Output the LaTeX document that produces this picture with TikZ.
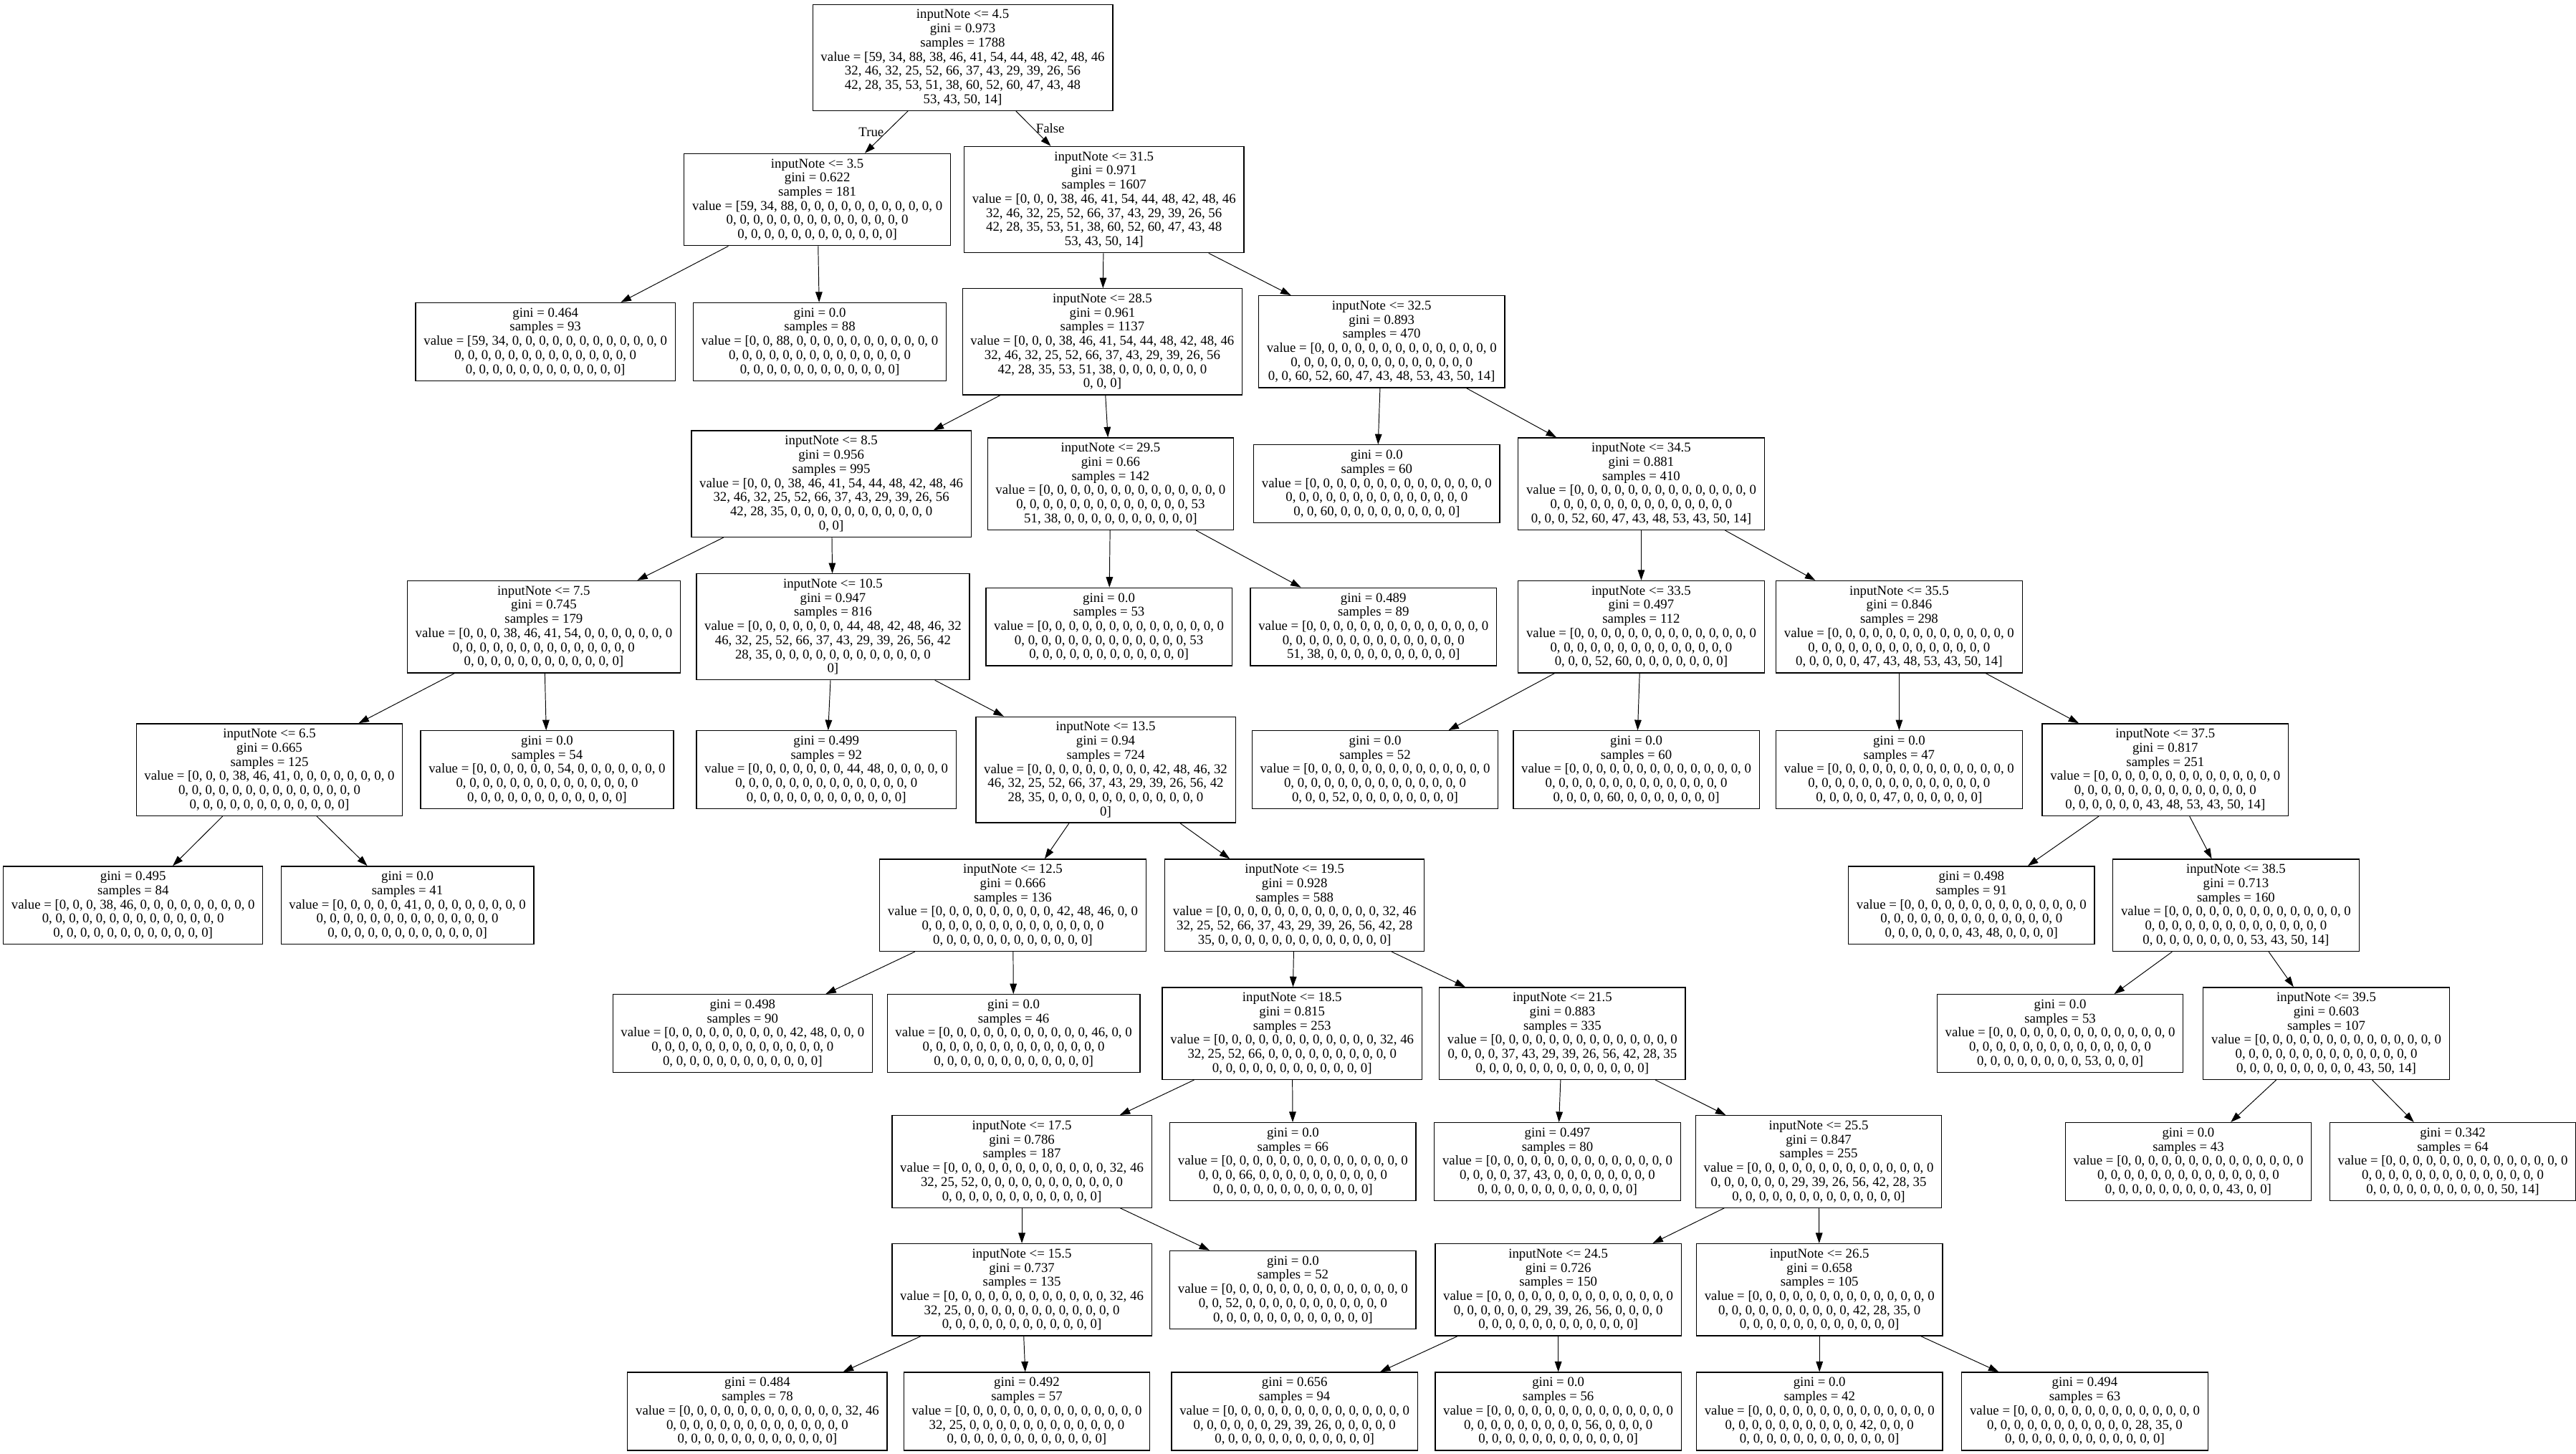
\documentclass[tikz,border=0pt]{standalone}
\usepackage{fontspec}
\setmainfont{Liberation Serif}
\usetikzlibrary{arrows.meta}
\newcommand{\treefont}{\fontsize{11.67}{12.24}\selectfont}
\newcommand{\zrow}{0, 0, 0, 0, 0, 0, 0, 0, 0, 0, 0, 0, 0, 0}
\newcommand{\zend}{0, 0, 0, 0, 0, 0, 0, 0, 0, 0, 0, 0]}
\newcommand{\leafinfo}[5]{gini = #1\\samples = #2\\value = [#3\\#4\\#5}
\tikzset{
 nodebox/.style={draw,line width=0.8pt,align=center,inner xsep=7pt,
             inner ysep=4.5pt,font=\treefont},
 link/.style={-{Triangle[length=9pt,width=6pt]},line width=0.6pt},
 elabel/.style={font=\treefont,inner sep=2pt}
}

\begin{document}
\begin{tikzpicture}[x=0.05cm,y=-0.05cm]
\path[use as bounding box,fill=white] (0,0) rectangle (1568,884.6);
% rank 0
\node[nodebox] (s45) at (586,35) {inputNote <= 4.5\\gini = 0.973\\samples = 1788\\value = [59, 34, 88, 38, 46, 41, 54, 44, 48, 42, 48, 46\\32, 46, 32, 25, 52, 66, 37, 43, 29, 39, 26, 56\\42, 28, 35, 53, 51, 38, 60, 52, 60, 47, 43, 48\\53, 43, 50, 14]};
% rank 1
\node[nodebox] (s35) at (497.5,121.5) {inputNote <= 3.5\\gini = 0.622\\samples = 181\\value = [59, 34, 88, 0, 0, 0, 0, 0, 0, 0, 0, 0, 0, 0\\\zrow\\\zend};
\node[nodebox] (s315) at (672,121.5) {inputNote <= 31.5\\gini = 0.971\\samples = 1607\\value = [0, 0, 0, 38, 46, 41, 54, 44, 48, 42, 48, 46\\32, 46, 32, 25, 52, 66, 37, 43, 29, 39, 26, 56\\42, 28, 35, 53, 51, 38, 60, 52, 60, 47, 43, 48\\53, 43, 50, 14]};
% rank 2
\node[nodebox] (s35l) at (332,208) {\leafinfo{0.464}{93}{59, 34, 0, 0, 0, 0, 0, 0, 0, 0, 0, 0, 0, 0}{\zrow}{\zend}};
\node[nodebox] (s35r) at (499,208) {\leafinfo{0.0}{88}{0, 0, 88, 0, 0, 0, 0, 0, 0, 0, 0, 0, 0, 0}{\zrow}{\zend}};
\node[nodebox] (s285) at (671,208) {inputNote <= 28.5\\gini = 0.961\\samples = 1137\\value = [0, 0, 0, 38, 46, 41, 54, 44, 48, 42, 48, 46\\32, 46, 32, 25, 52, 66, 37, 43, 29, 39, 26, 56\\42, 28, 35, 53, 51, 38, 0, 0, 0, 0, 0, 0, 0\\0, 0, 0]};
\node[nodebox] (s325) at (841,208) {inputNote <= 32.5\\gini = 0.893\\samples = 470\\value = [\zrow\\\zrow\\0, 0, 60, 52, 60, 47, 43, 48, 53, 43, 50, 14]};
% rank 3
\node[nodebox] (s85) at (506,294.5) {inputNote <= 8.5\\gini = 0.956\\samples = 995\\value = [0, 0, 0, 38, 46, 41, 54, 44, 48, 42, 48, 46\\32, 46, 32, 25, 52, 66, 37, 43, 29, 39, 26, 56\\42, 28, 35, 0, 0, 0, 0, 0, 0, 0, 0, 0, 0, 0\\0, 0]};
\node[nodebox] (s295) at (676,294.5) {inputNote <= 29.5\\gini = 0.66\\samples = 142\\value = [\zrow\\0, 0, 0, 0, 0, 0, 0, 0, 0, 0, 0, 0, 0, 53\\51, 38, 0, 0, 0, 0, 0, 0, 0, 0, 0, 0]};
\node[nodebox] (s325l) at (838,294.5) {\leafinfo{0.0}{60}{\zrow}{\zrow}{0, 0, 60, 0, 0, 0, 0, 0, 0, 0, 0, 0]}};
\node[nodebox] (s345) at (999,294.5) {inputNote <= 34.5\\gini = 0.881\\samples = 410\\value = [\zrow\\\zrow\\0, 0, 0, 52, 60, 47, 43, 48, 53, 43, 50, 14]};
% rank 4
\node[nodebox] (s75) at (331,381.5) {inputNote <= 7.5\\gini = 0.745\\samples = 179\\value = [0, 0, 0, 38, 46, 41, 54, 0, 0, 0, 0, 0, 0, 0\\\zrow\\\zend};
\node[nodebox] (s105) at (507,381.5) {inputNote <= 10.5\\gini = 0.947\\samples = 816\\value = [0, 0, 0, 0, 0, 0, 0, 44, 48, 42, 48, 46, 32\\46, 32, 25, 52, 66, 37, 43, 29, 39, 26, 56, 42\\28, 35, 0, 0, 0, 0, 0, 0, 0, 0, 0, 0, 0, 0\\0]};
\node[nodebox] (s295l) at (675,381.5) {\leafinfo{0.0}{53}{\zrow}{0, 0, 0, 0, 0, 0, 0, 0, 0, 0, 0, 0, 0, 53}{\zend}};
\node[nodebox] (s295r) at (836,381.5) {\leafinfo{0.489}{89}{\zrow}{\zrow}{51, 38, 0, 0, 0, 0, 0, 0, 0, 0, 0, 0]}};
\node[nodebox] (s335) at (999,381.5) {inputNote <= 33.5\\gini = 0.497\\samples = 112\\value = [\zrow\\\zrow\\0, 0, 0, 52, 60, 0, 0, 0, 0, 0, 0, 0]};
\node[nodebox] (s355) at (1156,381.5) {inputNote <= 35.5\\gini = 0.846\\samples = 298\\value = [\zrow\\\zrow\\0, 0, 0, 0, 0, 47, 43, 48, 53, 43, 50, 14]};
% rank 5
\node[nodebox] (s65) at (164,468.5) {inputNote <= 6.5\\gini = 0.665\\samples = 125\\value = [0, 0, 0, 38, 46, 41, 0, 0, 0, 0, 0, 0, 0, 0\\\zrow\\\zend};
\node[nodebox] (s75r) at (333,468.5) {\leafinfo{0.0}{54}{0, 0, 0, 0, 0, 0, 54, 0, 0, 0, 0, 0, 0, 0}{\zrow}{\zend}};
\node[nodebox] (s105l) at (503,468.5) {\leafinfo{0.499}{92}{0, 0, 0, 0, 0, 0, 0, 44, 48, 0, 0, 0, 0, 0}{\zrow}{\zend}};
\node[nodebox] (s135) at (673,468.5) {inputNote <= 13.5\\gini = 0.94\\samples = 724\\value = [0, 0, 0, 0, 0, 0, 0, 0, 0, 42, 48, 46, 32\\46, 32, 25, 52, 66, 37, 43, 29, 39, 26, 56, 42\\28, 35, 0, 0, 0, 0, 0, 0, 0, 0, 0, 0, 0, 0\\0]};
\node[nodebox] (s335l) at (837,468.5) {\leafinfo{0.0}{52}{\zrow}{\zrow}{0, 0, 0, 52, 0, 0, 0, 0, 0, 0, 0, 0]}};
\node[nodebox] (s335r) at (996,468.5) {\leafinfo{0.0}{60}{\zrow}{\zrow}{0, 0, 0, 0, 60, 0, 0, 0, 0, 0, 0, 0]}};
\node[nodebox] (s355l) at (1156,468.5) {\leafinfo{0.0}{47}{\zrow}{\zrow}{0, 0, 0, 0, 0, 47, 0, 0, 0, 0, 0, 0]}};
\node[nodebox] (s375) at (1318,468.5) {inputNote <= 37.5\\gini = 0.817\\samples = 251\\value = [\zrow\\\zrow\\0, 0, 0, 0, 0, 0, 43, 48, 53, 43, 50, 14]};
% rank 6
\node[nodebox] (s65l) at (81,551) {\leafinfo{0.495}{84}{0, 0, 0, 38, 46, 0, 0, 0, 0, 0, 0, 0, 0, 0}{\zrow}{\zend}};
\node[nodebox] (s65r) at (248,551) {\leafinfo{0.0}{41}{0, 0, 0, 0, 0, 41, 0, 0, 0, 0, 0, 0, 0, 0}{\zrow}{\zend}};
\node[nodebox] (s125) at (616.5,551) {inputNote <= 12.5\\gini = 0.666\\samples = 136\\value = [0, 0, 0, 0, 0, 0, 0, 0, 0, 42, 48, 46, 0, 0\\\zrow\\\zend};
\node[nodebox] (s195) at (788,551) {inputNote <= 19.5\\gini = 0.928\\samples = 588\\value = [0, 0, 0, 0, 0, 0, 0, 0, 0, 0, 0, 0, 32, 46\\32, 25, 52, 66, 37, 43, 29, 39, 26, 56, 42, 28\\35, 0, 0, 0, 0, 0, 0, 0, 0, 0, 0, 0, 0, 0]};
\node[nodebox] (s375l) at (1200,551) {\leafinfo{0.498}{91}{\zrow}{\zrow}{0, 0, 0, 0, 0, 0, 43, 48, 0, 0, 0, 0]}};
\node[nodebox] (s385) at (1361,551) {inputNote <= 38.5\\gini = 0.713\\samples = 160\\value = [\zrow\\\zrow\\0, 0, 0, 0, 0, 0, 0, 0, 53, 43, 50, 14]};
% rank 7
\node[nodebox] (s125l) at (452,629) {\leafinfo{0.498}{90}{0, 0, 0, 0, 0, 0, 0, 0, 0, 42, 48, 0, 0, 0}{\zrow}{\zend}};
\node[nodebox] (s125r) at (617,629) {\leafinfo{0.0}{46}{0, 0, 0, 0, 0, 0, 0, 0, 0, 0, 0, 46, 0, 0}{\zrow}{\zend}};
\node[nodebox] (s185) at (786.5,629) {inputNote <= 18.5\\gini = 0.815\\samples = 253\\value = [0, 0, 0, 0, 0, 0, 0, 0, 0, 0, 0, 0, 32, 46\\32, 25, 52, 66, 0, 0, 0, 0, 0, 0, 0, 0, 0, 0\\\zend};
\node[nodebox] (s215) at (951,629) {inputNote <= 21.5\\gini = 0.883\\samples = 335\\value = [\zrow\\0, 0, 0, 0, 37, 43, 29, 39, 26, 56, 42, 28, 35\\0, 0, 0, 0, 0, 0, 0, 0, 0, 0, 0, 0, 0]};
\node[nodebox] (s385l) at (1254,629) {\leafinfo{0.0}{53}{\zrow}{\zrow}{0, 0, 0, 0, 0, 0, 0, 0, 53, 0, 0, 0]}};
\node[nodebox] (s395) at (1416,629) {inputNote <= 39.5\\gini = 0.603\\samples = 107\\value = [\zrow\\\zrow\\0, 0, 0, 0, 0, 0, 0, 0, 0, 43, 50, 14]};
% rank 8
\node[nodebox] (s175) at (622,707) {inputNote <= 17.5\\gini = 0.786\\samples = 187\\value = [0, 0, 0, 0, 0, 0, 0, 0, 0, 0, 0, 0, 32, 46\\32, 25, 52, 0, 0, 0, 0, 0, 0, 0, 0, 0, 0, 0\\\zend};
\node[nodebox] (s185r) at (787,707) {\leafinfo{0.0}{66}{\zrow}{0, 0, 0, 66, 0, 0, 0, 0, 0, 0, 0, 0, 0, 0}{\zend}};
\node[nodebox] (s215l) at (948,707) {\leafinfo{0.497}{80}{\zrow}{0, 0, 0, 0, 37, 43, 0, 0, 0, 0, 0, 0, 0, 0}{\zend}};
\node[nodebox] (s255) at (1107,707) {inputNote <= 25.5\\gini = 0.847\\samples = 255\\value = [\zrow\\0, 0, 0, 0, 0, 0, 29, 39, 26, 56, 42, 28, 35\\0, 0, 0, 0, 0, 0, 0, 0, 0, 0, 0, 0, 0]};
\node[nodebox] (s395l) at (1332,707) {\leafinfo{0.0}{43}{\zrow}{\zrow}{0, 0, 0, 0, 0, 0, 0, 0, 0, 43, 0, 0]}};
\node[nodebox] (s395r) at (1493,707) {\leafinfo{0.342}{64}{\zrow}{\zrow}{0, 0, 0, 0, 0, 0, 0, 0, 0, 0, 50, 14]}};
% rank 9
\node[nodebox] (s155) at (622,785) {inputNote <= 15.5\\gini = 0.737\\samples = 135\\value = [0, 0, 0, 0, 0, 0, 0, 0, 0, 0, 0, 0, 32, 46\\32, 25, 0, 0, 0, 0, 0, 0, 0, 0, 0, 0, 0, 0\\\zend};
\node[nodebox] (s175r) at (787,785) {\leafinfo{0.0}{52}{\zrow}{0, 0, 52, 0, 0, 0, 0, 0, 0, 0, 0, 0, 0, 0}{\zend}};
\node[nodebox] (s245) at (948.5,785) {inputNote <= 24.5\\gini = 0.726\\samples = 150\\value = [\zrow\\0, 0, 0, 0, 0, 0, 29, 39, 26, 56, 0, 0, 0, 0\\\zend};
\node[nodebox] (s265) at (1107.5,785) {inputNote <= 26.5\\gini = 0.658\\samples = 105\\value = [\zrow\\0, 0, 0, 0, 0, 0, 0, 0, 0, 0, 42, 28, 35, 0\\\zend};
% rank 10
\node[nodebox] (s155l) at (461,859) {\leafinfo{0.484}{78}{0, 0, 0, 0, 0, 0, 0, 0, 0, 0, 0, 0, 32, 46}{\zrow}{\zend}};
\node[nodebox] (s155r) at (625,859) {\leafinfo{0.492}{57}{\zrow}{32, 25, 0, 0, 0, 0, 0, 0, 0, 0, 0, 0, 0, 0}{\zend}};
\node[nodebox] (s245l) at (788,859) {\leafinfo{0.656}{94}{\zrow}{0, 0, 0, 0, 0, 0, 29, 39, 26, 0, 0, 0, 0, 0}{\zend}};
\node[nodebox] (s245r) at (948.5,859) {\leafinfo{0.0}{56}{\zrow}{0, 0, 0, 0, 0, 0, 0, 0, 0, 56, 0, 0, 0, 0}{\zend}};
\node[nodebox] (s265l) at (1107.5,859) {\leafinfo{0.0}{42}{\zrow}{0, 0, 0, 0, 0, 0, 0, 0, 0, 0, 42, 0, 0, 0}{\zend}};
\node[nodebox] (s265r) at (1269,859) {\leafinfo{0.494}{63}{\zrow}{0, 0, 0, 0, 0, 0, 0, 0, 0, 0, 0, 28, 35, 0}{\zend}};
% connectors
\draw[link] (s45) -- node[elabel,left] (truelab) {True} (s35);
\draw[link] (s45) -- node[elabel,right] (falselab) {False} (s315);
\draw[link] (s35)--(s35l); \draw[link] (s35)--(s35r);
\draw[link] (s315)--(s285); \draw[link] (s315)--(s325);
\draw[link] (s285)--(s85); \draw[link] (s285)--(s295);
\draw[link] (s325)--(s325l); \draw[link] (s325)--(s345);
\draw[link] (s85)--(s75); \draw[link] (s85)--(s105);
\draw[link] (s295)--(s295l); \draw[link] (s295)--(s295r);
\draw[link] (s345)--(s335); \draw[link] (s345)--(s355);
\draw[link] (s75)--(s65); \draw[link] (s75)--(s75r);
\draw[link] (s105)--(s105l); \draw[link] (s105)--(s135);
\draw[link] (s335)--(s335l); \draw[link] (s335)--(s335r);
\draw[link] (s355)--(s355l); \draw[link] (s355)--(s375);
\draw[link] (s65)--(s65l); \draw[link] (s65)--(s65r);
\draw[link] (s135)--(s125); \draw[link] (s135)--(s195);
\draw[link] (s375)--(s375l); \draw[link] (s375)--(s385);
\draw[link] (s125)--(s125l); \draw[link] (s125)--(s125r);
\draw[link] (s195)--(s185); \draw[link] (s195)--(s215);
\draw[link] (s385)--(s385l); \draw[link] (s385)--(s395);
\draw[link] (s185)--(s175); \draw[link] (s185)--(s185r);
\draw[link] (s215)--(s215l); \draw[link] (s215)--(s255);
\draw[link] (s395)--(s395l); \draw[link] (s395)--(s395r);
\draw[link] (s175)--(s155); \draw[link] (s175)--(s175r);
\draw[link] (s255)--(s245); \draw[link] (s255)--(s265);
\draw[link] (s155)--(s155l); \draw[link] (s155)--(s155r);
\draw[link] (s245)--(s245l); \draw[link] (s245)--(s245r);
\draw[link] (s265)--(s265l); \draw[link] (s265)--(s265r);
\end{tikzpicture}
\end{document}
